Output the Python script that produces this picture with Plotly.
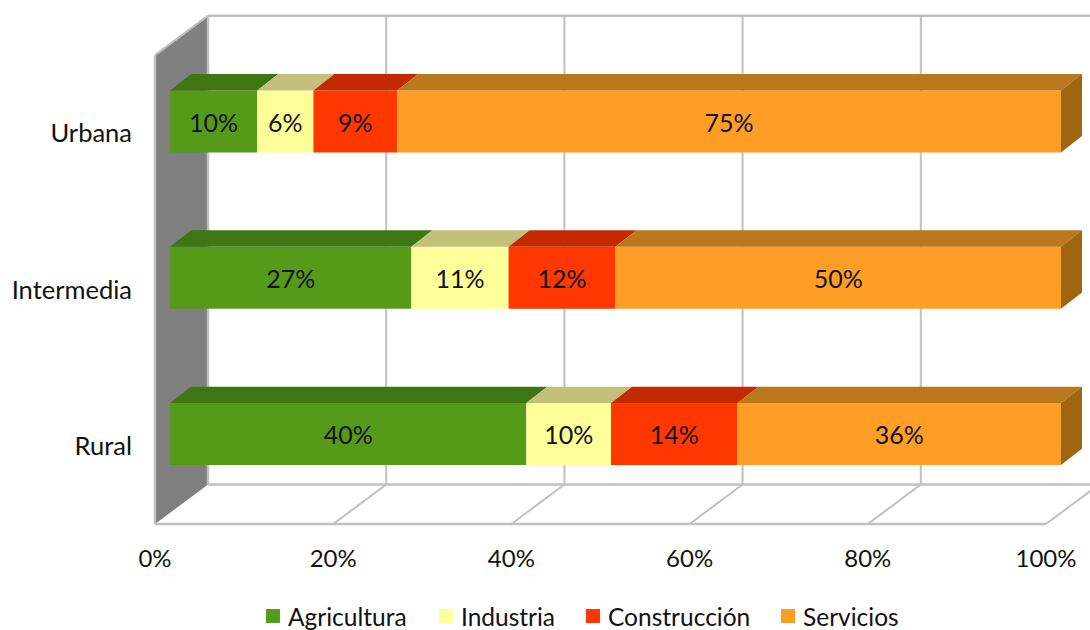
import plotly.graph_objects as go

categories = ["Rural", "Intermedia", "Urbana"]
cat_pos = [0.5, 1.5, 2.5]
series_names = ["Agricultura", "Industria", "Construcción", "Servicios"]
agricultura = [40.0, 27.1, 9.8]
industria = [9.5, 10.9, 6.3]
construccion = [14.2, 12.0, 9.4]
servicios = [36.3, 50.0, 74.5]
lab_agricultura = ["40%", "27%", "10%"]
lab_industria = ["10%", "11%", "6%"]
lab_construccion = ["14%", "12%", "9%"]
lab_servicios = ["36%", "50%", "75%"]
x_ticks = [0, 20, 40, 60, 80, 100]
x_ticktext = ["0%", "20%", "40%", "60%", "80%", "100%"]

front_cols = ["#569a1a", "#ffff99", "#ff3700", "#ff9e25"]
top_cols = ["#3f7614", "#c2c07a", "#c42a00", "#bb771c"]
side_col = "#a0660f"
wall_col = "#808080"
grid_col = "#c0c0c0"
text_col = "#111111"
FONT = "Lato"

# 3D projection, in axis units
WALL_DX, WALL_DY = 5.95, 0.2527
BAR_X0, BAR_YS = 1.68, 0.0755
BAR_H = 0.397
BAR_DX, BAR_DY = 2.36, 0.105

# one legend box per series, left edge as a fraction of the page width
legend_ids = ["legend", "legend2", "legend3", "legend4"]
legend_left = [0.2275, 0.3862, 0.5211, 0.7000]

fig = go.Figure()
all_vals = [agricultura, industria, construccion, servicios]
all_labs = [lab_agricultura, lab_industria, lab_construccion, lab_servicios]
bar_y = [c + BAR_YS for c in cat_pos]

cum = [BAR_X0] * len(categories)
for name, vals, labs, col, tcol, lid in zip(series_names, all_vals, all_labs, front_cols, top_cols, legend_ids):
    fig.add_trace(go.Bar(
        name=name, orientation="h", y=bar_y, x=vals, base=list(cum), width=BAR_H, legend=lid,
        marker=dict(color=col, line=dict(width=0)), text=labs, textposition="inside",
        insidetextanchor="middle", constraintext="none", textangle=0,
        insidetextfont=dict(family=FONT, size=25, color=text_col), hoverinfo="skip",
    ))
    for i, (v, y) in enumerate(zip(vals, bar_y)):
        t = y + BAR_H / 2
        xs = [cum[i], cum[i] + v, cum[i] + v + BAR_DX, cum[i] + BAR_DX, cum[i]]
        ys = [t, t, t + BAR_DY, t + BAR_DY, t]
        fig.add_trace(go.Scatter(x=xs, y=ys, mode="lines", fill="toself", fillcolor=tcol,
                                 line=dict(width=0), showlegend=False, hoverinfo="skip"))
    cum = [c + v for c, v in zip(cum, vals)]

for i, y in enumerate(bar_y):
    b, t, e = y - BAR_H / 2, y + BAR_H / 2, cum[i]
    fig.add_trace(go.Scatter(x=[e, e + BAR_DX, e + BAR_DX, e, e], y=[b, b + BAR_DY, t + BAR_DY, t, b],
                             mode="lines", fill="toself", fillcolor=side_col, line=dict(width=0),
                             showlegend=False, hoverinfo="skip"))

shapes = [dict(type="path", xref="x", yref="y", layer="below", fillcolor=wall_col, line=dict(width=0),
               path=f"M0,0 L0,3 L{WALL_DX},{3 + WALL_DY} L{WALL_DX},{WALL_DY} Z")]


def seg(x0, y0, x1, y1, w=2):
    shapes.append(dict(type="line", xref="x", yref="y", layer="below", x0=x0, y0=y0, x1=x1, y1=y1,
                       line=dict(color=grid_col, width=w)))


for k in x_ticks:
    if k > 0:
        seg(k + WALL_DX, WALL_DY, k + WALL_DX, 3 + WALL_DY)
        seg(k, 0, k + WALL_DX, WALL_DY)
seg(WALL_DX, 3 + WALL_DY, 100 + WALL_DX, 3 + WALL_DY, 2.5)
seg(WALL_DX, WALL_DY, 100 + WALL_DX, WALL_DY, 2.5)
seg(WALL_DX, WALL_DY, WALL_DX, 3 + WALL_DY, 2.5)
seg(0, 0, 100, 0, 2.5)
seg(0, 0, 0, 3, 2.5)
seg(0, 3, WALL_DX, 3 + WALL_DY, 2)

layout_legends = {
    lid: dict(orientation="h", xref="container", yref="container", x=lx, y=0.0222,
              xanchor="left", yanchor="middle", font=dict(family=FONT, size=24.5, color=text_col),
              bgcolor="rgba(0,0,0,0)")
    for lid, lx in zip(legend_ids, legend_left)
}

fig.update_layout(
    width=1090, height=630, autosize=False, barmode="overlay",
    margin=dict(l=133, r=0, t=10, b=88),
    paper_bgcolor="white", plot_bgcolor="white",
    font=dict(family=FONT, size=25, color=text_col),
    shapes=shapes,
    xaxis=dict(range=[-2.469, 104.94], tickvals=x_ticks, ticktext=x_ticktext, showgrid=False,
               zeroline=False, showline=False, ticks="", fixedrange=True,
               tickfont=dict(family=FONT, size=24, color=text_col)),
    yaxis=dict(range=[-0.1152, 3.289], tickvals=cat_pos, ticktext=categories, showgrid=False,
               zeroline=False, showline=False, ticks="", fixedrange=True,
               tickfont=dict(family=FONT, size=25.5, color=text_col)),
    **layout_legends,
)

post = """
document.body.style.margin='0';
var gd=document.getElementById('{plot_id}');
function tweak(){
  gd.querySelectorAll('.legendsymbols').forEach(function(g){g.setAttribute('transform','translate(5,0)');});
  gd.querySelectorAll('.legendsymbols path').forEach(function(p){p.setAttribute('d','M7,7H-7V-7H7Z');});
}
if(gd.on){gd.on('plotly_afterplot',tweak);}
tweak();setTimeout(tweak,100);
"""
fig.write_html("out.html", post_script=post, config={"displayModeBar": False})
